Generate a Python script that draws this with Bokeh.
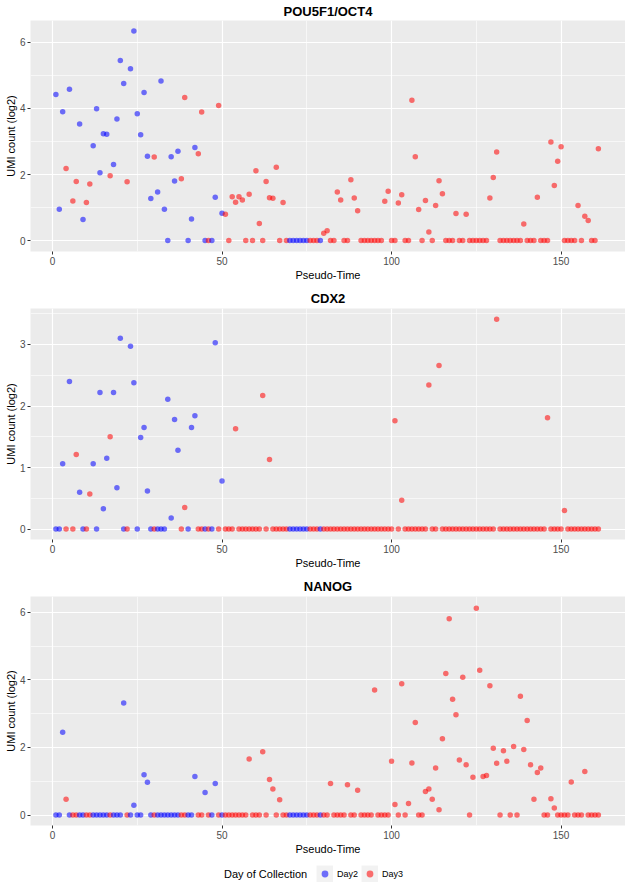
from bokeh.plotting import figure
from bokeh.models import ColumnDataSource, SingleIntervalTicker, Range1d, Legend, LegendItem
from bokeh.layouts import column
from bokeh.transform import factor_cmap
from bokeh.embed import file_html
from bokeh.resources import INLINE

# ---------------- data ----------------
pseudo_time = [
    1, 2, 3, 4, 5, 6, 7, 8, 9, 10, 11, 12, 13, 14, 15, 16, 17, 18, 19, 20,
    21, 22, 23, 24, 25, 26, 27, 28, 29, 30, 31, 32, 33, 34, 35, 36, 37, 38, 39, 40,
    41, 42, 43, 44, 45, 46, 47, 48, 49, 50, 51, 52, 53, 54, 55, 56, 57, 58, 59, 60,
    61, 62, 63, 64, 65, 66, 67, 68, 69, 70, 71, 72, 73, 74, 75, 76, 77, 78, 79, 80,
    81, 82, 83, 84, 85, 86, 87, 88, 89, 90, 91, 92, 93, 94, 95, 96, 97, 98, 99, 100,
    101, 102, 103, 104, 105, 106, 107, 108, 109, 110, 111, 112, 113, 114, 115, 116, 117, 118, 119, 120,
    121, 122, 123, 124, 125, 126, 127, 128, 129, 130, 131, 132, 133, 134, 135, 136, 137, 138, 139, 140,
    141, 142, 143, 144, 145, 146, 147, 148, 149, 150, 151, 152, 153, 154, 155, 156, 157, 158, 159, 160,
    161,
]

day = [
    "Day2", "Day2", "Day2", "Day3", "Day2", "Day3", "Day3", "Day2", "Day2", "Day3",
    "Day3", "Day2", "Day2", "Day2", "Day2", "Day2", "Day3", "Day2", "Day2", "Day2",
    "Day2", "Day3", "Day2", "Day2", "Day2", "Day2", "Day2", "Day2", "Day2", "Day3",
    "Day2", "Day2", "Day2", "Day2", "Day2", "Day2", "Day2", "Day3", "Day3", "Day2",
    "Day2", "Day2", "Day3", "Day3", "Day2", "Day3", "Day2", "Day2", "Day3", "Day2",
    "Day3", "Day3", "Day3", "Day3", "Day3", "Day3", "Day3", "Day3", "Day3", "Day3",
    "Day3", "Day3", "Day3", "Day3", "Day3", "Day3", "Day3", "Day3", "Day3", "Day2",
    "Day2", "Day2", "Day2", "Day2", "Day2", "Day3", "Day3", "Day3", "Day2", "Day3",
    "Day3", "Day3", "Day3", "Day3", "Day3", "Day3", "Day3", "Day3", "Day3", "Day3",
    "Day3", "Day3", "Day3", "Day3", "Day3", "Day3", "Day3", "Day3", "Day3", "Day3",
    "Day3", "Day3", "Day3", "Day3", "Day3", "Day3", "Day3", "Day3", "Day3", "Day3",
    "Day3", "Day3", "Day3", "Day3", "Day3", "Day3", "Day3", "Day3", "Day3", "Day3",
    "Day3", "Day3", "Day3", "Day3", "Day3", "Day3", "Day3", "Day3", "Day3", "Day3",
    "Day3", "Day3", "Day3", "Day3", "Day3", "Day3", "Day3", "Day3", "Day3", "Day3",
    "Day3", "Day3", "Day3", "Day3", "Day3", "Day3", "Day3", "Day3", "Day3", "Day3",
    "Day3", "Day3", "Day3", "Day3", "Day3", "Day3", "Day3", "Day3", "Day3", "Day3",
    "Day3",
]

pou5f1 = [
    4.42, 0.95, 3.90, 2.18, 4.58, 1.20, 1.79, 3.53, 0.64, 1.15,
    1.71, 2.87, 3.99, 2.05, 3.23, 3.22, 1.96, 2.30, 3.68, 5.45,
    4.75, 1.78, 5.20, 6.34, 3.84, 3.20, 4.48, 2.55, 1.27, 2.53,
    1.47, 4.83, 0.95, 0.00, 2.54, 1.80, 2.70, 1.87, 4.33, 0.00,
    0.65, 2.82, 2.63, 3.89, 0.00, 0.00, 0.00, 1.31, 4.09, 0.83,
    0.80, 0.00, 1.33, 1.16, 1.33, 1.23, 0.00, 1.40, 0.00, 2.11,
    0.52, 0.00, 1.79, 1.30, 1.28, 2.22, 0.00, 1.15, 0.00, 0.00,
    0.00, 0.00, 0.00, 0.00, 0.00, 0.00, 0.00, 0.00, 0.00, 0.22,
    0.30, 0.00, 0.00, 1.47, 1.23, 0.00, 0.00, 1.84, 1.29, 0.90,
    0.00, 0.00, 0.00, 0.00, 0.00, 0.00, 0.00, 1.19, 1.49, 0.00,
    0.00, 1.14, 1.39, 0.00, 0.00, 4.25, 2.54, 0.94, 0.00, 1.21,
    0.26, 0.00, 1.06, 1.81, 1.42, 0.00, 0.00, 0.00, 0.82, 0.00,
    0.00, 0.80, 0.00, 0.00, 0.00, 0.00, 0.00, 0.00, 1.29, 1.91,
    2.68, 0.00, 0.00, 0.00, 0.00, 0.00, 0.00, 0.00, 0.50, 0.00,
    0.00, 0.00, 1.31, 0.00, 0.00, 0.00, 2.98, 1.67, 2.40, 2.84,
    0.00, 0.00, 0.00, 0.00, 1.06, 0.00, 0.74, 0.61, 0.00, 0.00,
    2.78,
]

cdx2 = [
    0.00, 0.00, 1.06, 0.00, 2.40, 0.00, 1.21, 0.60, 0.00, 0.00,
    0.57, 1.06, 0.00, 2.22, 0.33, 1.15, 1.50, 2.22, 0.67, 3.10,
    0.00, 0.00, 2.97, 2.38, 0.00, 1.49, 1.65, 0.62, 0.00, 0.00,
    0.00, 0.00, 0.00, 2.11, 0.18, 1.78, 1.28, 0.00, 0.35, 0.00,
    1.65, 1.84, 0.00, 0.00, 0.00, 0.00, 0.00, 3.03, 0.00, 0.78,
    0.00, 0.00, 0.00, 1.63, 0.00, 0.00, 0.00, 0.00, 0.00, 0.00,
    0.00, 2.17, 0.00, 1.13, 0.00, 0.00, 0.00, 0.00, 0.00, 0.00,
    0.00, 0.00, 0.00, 0.00, 0.00, 0.00, 0.00, 0.00, 0.00, 0.00,
    0.00, 0.00, 0.00, 0.00, 0.00, 0.00, 0.00, 0.00, 0.00, 0.00,
    0.00, 0.00, 0.00, 0.00, 0.00, 0.00, 0.00, 0.00, 0.00, 0.00,
    1.76, 0.00, 0.47, 0.00, 0.00, 0.00, 0.00, 0.00, 0.00, 0.00,
    2.34, 0.00, 0.00, 2.66, 0.00, 0.00, 0.00, 0.00, 0.00, 0.00,
    0.00, 0.00, 0.00, 0.00, 0.00, 0.00, 0.00, 0.00, 0.00, 0.00,
    3.41, 0.00, 0.00, 0.00, 0.00, 0.00, 0.00, 0.00, 0.00, 0.00,
    0.00, 0.00, 0.00, 0.00, 0.00, 1.81, 0.00, 0.00, 0.00, 0.00,
    0.30, 0.00, 0.00, 0.00, 0.00, 0.00, 0.00, 0.00, 0.00, 0.00,
    0.00,
]

nanog = [
    0.00, 0.00, 2.45, 0.47, 0.00, 0.00, 0.00, 0.00, 0.00, 0.00,
    0.00, 0.00, 0.00, 0.00, 0.00, 0.00, 0.00, 0.00, 0.00, 0.00,
    3.32, 0.00, 0.00, 0.29, 0.00, 0.00, 1.19, 0.97, 0.00, 0.00,
    0.00, 0.00, 0.00, 0.00, 0.00, 0.00, 0.00, 0.00, 0.00, 0.00,
    0.00, 1.14, 0.00, 0.00, 0.67, 0.00, 0.00, 0.93, 0.00, 0.00,
    0.00, 0.00, 0.00, 0.00, 0.00, 0.00, 0.00, 1.66, 0.00, 0.00,
    0.00, 1.87, 0.00, 1.05, 0.77, 0.00, 0.45, 0.00, 0.00, 0.00,
    0.00, 0.00, 0.00, 0.00, 0.00, 0.00, 0.00, 0.00, 0.00, 0.00,
    0.00, 0.93, 0.00, 0.00, 0.00, 0.00, 0.90, 0.00, 0.00, 0.73,
    0.00, 0.00, 0.00, 0.00, 3.70, 0.00, 0.00, 0.00, 0.00, 1.59,
    0.31, 0.00, 3.89, 0.00, 0.34, 1.54, 2.74, 0.00, 0.00, 0.70,
    0.77, 0.47, 1.39, 0.16, 2.26, 4.19, 5.81, 3.43, 2.97, 1.63,
    4.08, 1.49, 0.00, 1.12, 6.12, 4.29, 1.14, 1.17, 3.83, 1.98,
    1.53, 0.00, 1.90, 1.59, 0.00, 2.03, 0.00, 3.52, 1.94, 2.80,
    1.49, 0.47, 1.26, 1.39, 0.00, 0.00, 0.48, 0.21, 0.00, 0.00,
    0.00, 0.00, 0.98, 0.00, 0.00, 0.00, 1.29, 0.00, 0.00, 0.00,
    0.00,
]

day_levels = ["Day2", "Day3"]
day_colors = ["#0000FF", "#FF0000"]
x_ticks_interval = 50

# ---------------- styling ----------------
FONT = "Liberation Sans"
W = 625
LEFT = 30
PANEL_BG = "#EBEBEB"
PT_ALPHA = 0.55


def make_panel(title, values, y_range, y_interval, height, top, bottom, title_standoff):
    src = ColumnDataSource(dict(t=pseudo_time, v=values, day=day))
    p = figure(width=W, height=height,
               x_range=Range1d(-6.49, 169.0), y_range=Range1d(*y_range),
               output_backend="svg", toolbar_location=None,
               min_border_left=LEFT, min_border_right=0,
               min_border_top=top, min_border_bottom=bottom)
    p.title.text = title
    p.title.align = "center"
    p.title.text_font = FONT
    p.title.text_font_size = "13px"
    p.title.text_font_style = "bold"
    p.title.text_color = "black"
    p.title.standoff = title_standoff

    p.background_fill_color = PANEL_BG
    p.border_fill_color = "white"
    p.outline_line_color = None

    p.xaxis.ticker = SingleIntervalTicker(interval=x_ticks_interval, num_minor_ticks=2)
    p.yaxis.ticker = SingleIntervalTicker(interval=y_interval, num_minor_ticks=2)

    for g in (p.xgrid, p.ygrid):
        g.grid_line_color = "white"
        g.grid_line_width = 1.2
        g.minor_grid_line_color = "white"
        g.minor_grid_line_width = 0.6

    ax = p.axis
    ax.axis_line_color = None
    ax.major_tick_line_color = "#333333"
    ax.major_tick_out = 3
    ax.major_tick_in = 0
    ax.minor_tick_line_color = None
    ax.major_label_text_color = "#4D4D4D"
    ax.major_label_text_font = FONT
    ax.major_label_text_font_size = "10px"
    ax.axis_label_text_font = FONT
    ax.axis_label_text_font_size = "11px"
    ax.axis_label_text_font_style = "normal"
    ax.axis_label_text_color = "black"

    p.xaxis.axis_label = "Pseudo-Time"
    p.xaxis.major_label_standoff = 1
    p.xaxis.axis_label_standoff = 1
    p.yaxis.axis_label = "UMI count (log2)"
    p.yaxis.major_label_standoff = 1
    p.yaxis.axis_label_standoff = 0

    p.scatter("t", "v", source=src, size=5.5,
              fill_color=factor_cmap("day", palette=day_colors, factors=day_levels),
              fill_alpha=PT_ALPHA, line_color=None)
    return p


p1 = make_panel("POU5F1/OCT4", pou5f1, (-0.33, 6.66), 2, 285, 18, 34, 3)
p2 = make_panel("CDX2", cdx2, (-0.17, 3.585), 1, 288, 21, 34, 6)
p3 = make_panel("NANOG", nanog, (-0.31, 6.47), 2, 284, 21, 30, 6)

# ---------------- legend strip ----------------
lp = figure(width=W, height=27, x_range=Range1d(0, 1), y_range=Range1d(0, 1),
            output_backend="svg", toolbar_location=None,
            min_border_left=LEFT, min_border_right=0, min_border_top=0, min_border_bottom=0)
lp.axis.visible = False
lp.grid.visible = False
lp.outline_line_color = None
lp.background_fill_color = "white"

nan_src = dict(x=[float("nan")], y=[float("nan")])
key_bg = lp.line("x", "y", source=ColumnDataSource(dict(nan_src)), line_color="#F2F2F2", line_width=17)
dot2 = lp.scatter("x", "y", source=ColumnDataSource(dict(nan_src)), size=6,
                  fill_color=day_colors[0], fill_alpha=PT_ALPHA, line_color=None)
dot3 = lp.scatter("x", "y", source=ColumnDataSource(dict(nan_src)), size=6,
                  fill_color=day_colors[1], fill_alpha=PT_ALPHA, line_color=None)
ghost = lp.scatter("x", "y", source=ColumnDataSource(dict(nan_src)), size=1,
                   fill_alpha=0, line_alpha=0)

leg_title = Legend(items=[LegendItem(label="Day of Collection", renderers=[ghost])],
                   location=(223 - LEFT, 2), orientation="horizontal",
                   glyph_width=1, glyph_height=17, label_standoff=0, padding=0, margin=0,
                   label_height=17, label_width=10,
                   border_line_color=None, background_fill_alpha=0,
                   label_text_font=FONT, label_text_font_size="11px", label_text_color="black")
leg_keys = Legend(items=[LegendItem(label=day_levels[0], renderers=[key_bg, dot2]),
                         LegendItem(label=day_levels[1], renderers=[key_bg, dot3])],
                  location=(316 - LEFT, 2), orientation="horizontal",
                  glyph_width=17, glyph_height=17, label_standoff=4, spacing=3,
                  padding=0, margin=0, label_height=17, label_width=10,
                  border_line_color=None, background_fill_alpha=0,
                  label_text_font=FONT, label_text_font_size="9px", label_text_color="black")
lp.add_layout(leg_title)
lp.add_layout(leg_keys)

layout = column(p1, p2, p3, lp, spacing=0)
open("out.html", "w").write(file_html(layout, INLINE))
